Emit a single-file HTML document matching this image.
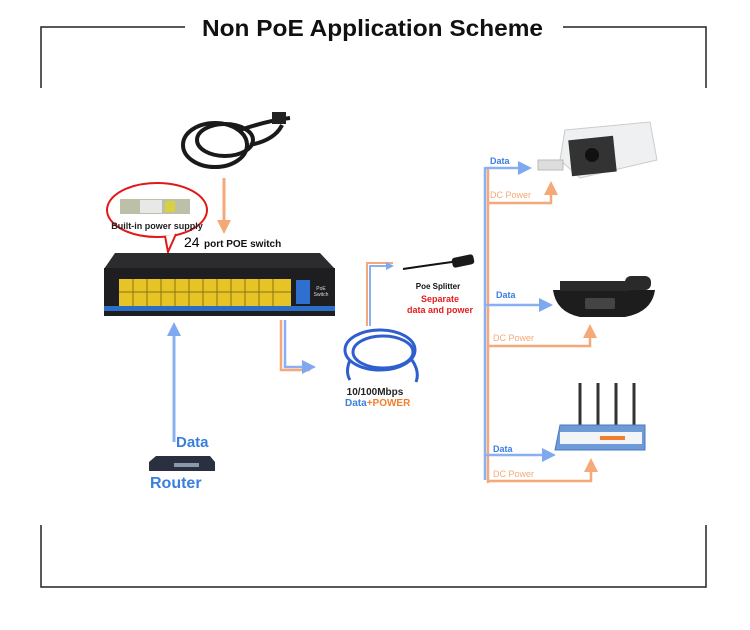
<!DOCTYPE html>
<html><head><meta charset="utf-8"><style>
html,body{margin:0;padding:0;background:#fff;}
svg{display:block;font-family:"Liberation Sans",sans-serif;}
</style></head><body>
<svg width="750" height="630" viewBox="0 0 750 630" xmlns="http://www.w3.org/2000/svg">
<defs>
<marker id="ab" markerWidth="8" markerHeight="8" refX="6" refY="4" orient="auto" markerUnits="userSpaceOnUse"><path d="M0,0 L8,4 L0,8 Z" fill="#7fa8f0"/></marker>
<marker id="ao" markerWidth="8" markerHeight="8" refX="6" refY="4" orient="auto" markerUnits="userSpaceOnUse"><path d="M0,0 L8,4 L0,8 Z" fill="#f5a878"/></marker>
<marker id="abL" markerWidth="14" markerHeight="14" refX="10" refY="7" orient="auto" markerUnits="userSpaceOnUse"><path d="M0,0 L14,7 L0,14 Z" fill="#7fa8f0"/></marker>
<marker id="aoL" markerWidth="14" markerHeight="14" refX="10" refY="7" orient="auto" markerUnits="userSpaceOnUse"><path d="M0,0 L14,7 L0,14 Z" fill="#f5a878"/></marker>
</defs>
<g stroke="#222" stroke-width="1.5" fill="none">
<path d="M41,88 V27 H185"/><path d="M563,27 H706 V88"/>
<path d="M41,525 V587 H706 V525"/>
</g>
<text x="202" y="36" font-size="23" font-weight="bold" textLength="341" lengthAdjust="spacingAndGlyphs" fill="#111">Non PoE Application Scheme</text>

<g fill="none" stroke="#1a1a1a" stroke-width="4">
<ellipse cx="215" cy="145" rx="32" ry="22"/>
<ellipse cx="225" cy="140" rx="28" ry="16"/>
<path d="M240,130 Q270,120 290,118"/>
<path d="M250,145 Q275,140 282,125"/>
</g>
<rect x="272" y="112" width="14" height="12" fill="#222"/>
<line x1="224" y1="178" x2="224" y2="230" stroke="#f5a878" stroke-width="3" marker-end="url(#aoL)"/>

<ellipse cx="157" cy="210" rx="50" ry="27" fill="#fff" stroke="#e01818" stroke-width="2"/>
<path d="M165,236 L168,252 L176,234" fill="#fff" stroke="#e01818" stroke-width="2"/>
<rect x="120" y="199" width="70" height="15" fill="#bcc0a8"/>
<rect x="140" y="200" width="22" height="13" fill="#e8e8e8"/>
<rect x="165" y="201" width="10" height="11" fill="#d8d040"/>
<text x="157" y="229" font-size="9" font-weight="bold" text-anchor="middle" fill="#222">Built-in power supply</text>
<text x="184" y="247" font-size="14" fill="#000">24</text>
<text x="204" y="247" font-size="10" font-weight="bold" fill="#111">port POE switch</text>

<path d="M115,253 L320,253 L335,269 L104,269 Z" fill="#2c2c2e"/>
<rect x="104" y="268" width="231" height="48" fill="#1e1e20"/>
<rect x="119" y="279" width="172" height="27" fill="#e6c425"/>
<g stroke="#8a7410" stroke-width="1">
<path d="M119,292 H291"/>
<path d="M133,279V306M147,279V306M161,279V306M175,279V306M189,279V306M203,279V306M217,279V306M231,279V306M245,279V306M259,279V306M273,279V306"/>
</g>
<rect x="296" y="280" width="14" height="24" fill="#2f6fd0"/>
<text x="321" y="290" font-size="5" fill="#ddd" text-anchor="middle">PoE</text>
<text x="321" y="296" font-size="5" fill="#ddd" text-anchor="middle">Switch</text>
<rect x="104" y="306" width="231" height="5" fill="#2b6ec6"/>

<line x1="174" y1="442" x2="174" y2="326" stroke="#8ab0f2" stroke-width="3" marker-end="url(#abL)"/>
<text x="176" y="447" font-size="15" font-weight="bold" fill="#3a7ee0">Data</text>
<path d="M156,456 L210,456 L215,462 L215,471 L149,471 L149,462 Z" fill="#2a3040"/>
<rect x="174" y="463" width="25" height="4" fill="#8899aa"/>
<text x="150" y="488" font-size="16" font-weight="bold" fill="#3a7ee0">Router</text>

<path d="M281,320 V370 H310" fill="none" stroke="#f5a878" stroke-width="2.5"/>
<path d="M285,320 V367 H312" fill="none" stroke="#8ab0f2" stroke-width="2.5" marker-end="url(#abL)"/>

<g fill="none" stroke="#2f5fcf" stroke-width="3">
<ellipse cx="380" cy="350" rx="35" ry="20"/>
<ellipse cx="383" cy="352" rx="30" ry="16"/>
<path d="M350,360 Q345,372 350,380"/><path d="M412,360 Q420,372 416,382"/>
</g>
<text x="375" y="395" font-size="10" font-weight="bold" text-anchor="middle" fill="#222">10/100Mbps</text>
<text x="345" y="406" font-size="10" font-weight="bold" fill="#3a7ee0">Data<tspan fill="#f08030">+POWER</tspan></text>

<path d="M367,326 V263 H393" fill="none" stroke="#f5a878" stroke-width="2"/>
<path d="M370,326 V266 H392" fill="none" stroke="#8ab0f2" stroke-width="2" marker-end="url(#ab)"/>
<path d="M403,269 Q430,265 452,262" stroke="#111" stroke-width="2" fill="none"/>
<rect x="452" y="256" width="22" height="10" rx="3" fill="#1a1a1a" transform="rotate(-12 463 261)"/>
<text x="438" y="289" font-size="8" font-weight="bold" text-anchor="middle" fill="#111">Poe Splitter</text>
<text x="440" y="302" font-size="9" font-weight="bold" text-anchor="middle" fill="#e81c1c">Separate</text>
<text x="440" y="313" font-size="9" font-weight="bold" text-anchor="middle" fill="#e81c1c">data and power</text>

<line x1="485" y1="167" x2="485" y2="480" stroke="#8ab0f2" stroke-width="2.5"/>
<line x1="488" y1="167" x2="488" y2="483" stroke="#f5a878" stroke-width="2.5"/>

<line x1="486" y1="168" x2="528" y2="168" stroke="#8ab0f2" stroke-width="2.5" marker-end="url(#abL)"/>
<text x="490" y="164" font-size="9" font-weight="bold" fill="#3a7ee0">Data</text>
<path d="M488,203 H551 V185" fill="none" stroke="#f5a878" stroke-width="2.5" marker-end="url(#aoL)"/>
<text x="490" y="198" font-size="9" fill="#f5a878">DC Power</text>
<path d="M565,130 L650,122 L657,160 L580,178 L560,160 Z" fill="#eef0f2" stroke="#ccc"/>
<rect x="570" y="138" width="45" height="36" fill="#333" transform="rotate(-6 592 156)"/>
<circle cx="592" cy="155" r="7" fill="#111"/>
<rect x="538" y="160" width="25" height="10" fill="#ddd" stroke="#bbb"/>

<line x1="486" y1="305" x2="549" y2="305" stroke="#8ab0f2" stroke-width="2.5" marker-end="url(#abL)"/>
<text x="496" y="298" font-size="9" font-weight="bold" fill="#3a7ee0">Data</text>
<path d="M488,346 H590 V328" fill="none" stroke="#f5a878" stroke-width="2.5" marker-end="url(#aoL)"/>
<text x="493" y="341" font-size="9" fill="#f5a878">DC Power</text>
<path d="M553,290 L655,290 Q652,312 625,317 L580,317 Q556,312 553,290 Z" fill="#1d1d1d"/>
<rect x="560" y="281" width="70" height="10" fill="#2a2a2a"/>
<rect x="625" y="276" width="26" height="14" rx="6" fill="#2a2a2a"/>
<rect x="585" y="298" width="30" height="11" rx="2" fill="#444"/>

<line x1="486" y1="455" x2="552" y2="455" stroke="#8ab0f2" stroke-width="2.5" marker-end="url(#abL)"/>
<text x="493" y="452" font-size="9" font-weight="bold" fill="#3a7ee0">Data</text>
<path d="M488,481 H591 V462" fill="none" stroke="#f5a878" stroke-width="2.5" marker-end="url(#aoL)"/>
<text x="493" y="477" font-size="9" fill="#f5a878">DC Power</text>
<g stroke="#333" stroke-width="3">
<line x1="580" y1="383" x2="580" y2="425"/><line x1="598" y1="383" x2="598" y2="425"/>
<line x1="616" y1="383" x2="616" y2="425"/><line x1="634" y1="383" x2="634" y2="425"/>
</g>
<path d="M560,425 L645,425 L645,450 L555,450 Z" fill="#6e9ad8" stroke="#4a78c0"/>
<rect x="560" y="432" width="82" height="12" fill="#f2f4f8"/>
<rect x="600" y="436" width="25" height="4" fill="#f08030"/>
</svg>
</body></html>
